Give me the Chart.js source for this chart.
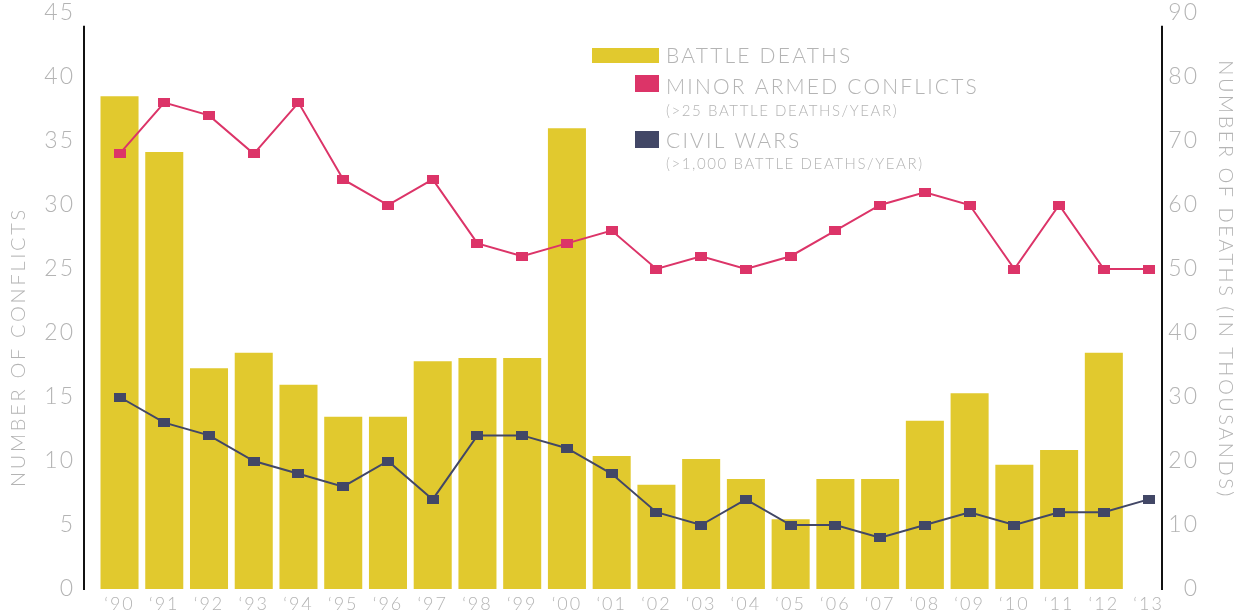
<!DOCTYPE html>
<html>
<head>
<meta charset="utf-8">
<script src="https://cdn.jsdelivr.net/npm/chart.js@4/dist/chart.umd.min.js"></script>
<style>
html,body{margin:0;padding:0;background:#ffffff;}
#wrap{width:1251px;height:613px;position:relative;}
</style>
</head>
<body>
<div id="wrap"><canvas id="c" width="1251" height="613"></canvas></div>
<script>
// ---- data ----
const years = ['‘90','‘91','‘92','‘93','‘94','‘95','‘96','‘97','‘98','‘99','‘00','‘01','‘02','‘03','‘04','‘05','‘06','‘07','‘08','‘09','‘10','‘11','‘12','‘13'];
const battleDeaths = [77, 68.3, 34.5, 36.9, 31.9, 26.9, 26.9, 35.6, 36.1, 36.1, 72, 20.8, 16.3, 20.3, 17.2, 10.9, 17.2, 17.2, 26.3, 30.6, 19.4, 21.7, 36.9, null];
const minorConflicts = [34, 38, 37, 34, 38, 32, 30, 32, 27, 26, 27, 28, 25, 26, 25, 26, 28, 30, 31, 30, 25, 30, 25, 25];
const civilWars = [15, 13, 12, 10, 9, 8, 10, 7, 12, 12, 11, 9, 6, 5, 7, 5, 5, 4, 5, 6, 5, 6, 6, 7];
const seriesLabels = ['BATTLE DEATHS', 'MINOR ARMED CONFLICTS', 'CIVIL WARS'];
const seriesNotes = ['', '(>25 BATTLE DEATHS/YEAR)', '(>1,000 BATTLE DEATHS/YEAR)'];
const leftTitle = 'NUMBER OF CONFLICTS';
const rightTitle = 'NUMBER OF DEATHS (IN THOUSANDS)';
const axisLineTop = 44; // axis lines stop just below the top tick (left-axis units)

// ---- styles ----
const YELLOW = '#e1c92e';
const PINK = '#dc3468';
const NAVY = '#424766';
const GREY = '#b4b4b4';
const FONT = 'Lato, "Open Sans", sans-serif';

function rectMarker(color, w, h) {
  const cv = document.createElement('canvas');
  cv.width = w; cv.height = h;
  const g = cv.getContext('2d');
  g.fillStyle = color; g.fillRect(0, 0, w, h);
  return cv;
}
const toXY = arr => arr.map((v, i) => ({x: i, y: v}));
function fixBox(size, key) {
  return function (s) {
    s[key] = size;
    s.paddingTop = 0; s.paddingBottom = 0; s.paddingLeft = 0; s.paddingRight = 0;
  };
}

const spacingPlugin = {
  id: 'spacing',
  beforeLayout(chart) { chart.ctx.letterSpacing = '2px'; },
  beforeDraw(chart) { chart.ctx.letterSpacing = '2px'; }
};

const decorPlugin = {
  id: 'decor',
  afterDraw(chart) {
    const ctx = chart.ctx;
    const ca = chart.chartArea;
    const ds = chart.data.datasets;
    const yL = chart.scales.yL;
    ctx.save();
    // axis lines
    ctx.strokeStyle = '#111111';
    ctx.lineWidth = 2;
    const yTop = yL.getPixelForValue(axisLineTop);
    const yBot = yL.getPixelForValue(0) + 1;
    ctx.beginPath();
    ctx.moveTo(ca.left, yTop); ctx.lineTo(ca.left, yBot);
    ctx.moveTo(ca.right, yTop); ctx.lineTo(ca.right, yBot);
    ctx.stroke();

    ctx.textAlign = 'left';
    ctx.textBaseline = 'alphabetic';
    // legend
    const lx = 666;
    ctx.fillStyle = ds[0].backgroundColor;
    ctx.fillRect(592, 48, 67, 15);
    ctx.fillStyle = ds[1].backgroundColor;
    ctx.fillRect(635, 75, 24, 17);
    ctx.fillStyle = ds[2].backgroundColor;
    ctx.fillRect(635, 131, 24, 17);
    ctx.fillStyle = GREY;
    ctx.letterSpacing = '2.2px';
    ctx.font = '300 21px ' + FONT;
    ctx.fillText(ds[0].label, lx, 62.5);
    ctx.fillText(ds[1].label, lx, 93.5);
    ctx.fillText(ds[2].label, lx, 147.5);
    ctx.letterSpacing = '1.6px';
    ctx.font = '300 15px ' + FONT;
    ctx.fillText(seriesNotes[1], lx, 115.5);
    ctx.fillText(seriesNotes[2], lx, 168.5);
    // axis titles
    ctx.font = '300 20px ' + FONT;
    ctx.textAlign = 'center';
    ctx.textBaseline = 'middle';
    ctx.letterSpacing = '2.7px';
    ctx.save();
    ctx.translate(19, ca.top + ca.height * 0.58);
    ctx.rotate(-Math.PI / 2);
    ctx.fillText(leftTitle, 0, 0);
    ctx.restore();
    ctx.letterSpacing = '2.5px';
    ctx.save();
    ctx.translate(1225, ca.top + ca.height * 0.463);
    ctx.rotate(Math.PI / 2);
    ctx.fillText(rightTitle, 0, 0);
    ctx.restore();
    ctx.restore();
  }
};

new Chart(document.getElementById('c'), {
  type: 'bar',
  data: {
    datasets: [
      {
        type: 'bar',
        label: seriesLabels[0],
        data: toXY(battleDeaths),
        backgroundColor: YELLOW,
        borderWidth: 0,
        yAxisID: 'yR',
        barPercentage: 0.85,
        categoryPercentage: 1,
        order: 2
      },
      {
        type: 'line',
        label: seriesLabels[1],
        data: toXY(minorConflicts),
        borderColor: PINK,
        backgroundColor: PINK,
        borderWidth: 2,
        pointStyle: rectMarker(PINK, 12, 9),
        pointRadius: 6,
        tension: 0,
        yAxisID: 'yL',
        order: 1
      },
      {
        type: 'line',
        label: seriesLabels[2],
        data: toXY(civilWars),
        borderColor: NAVY,
        backgroundColor: NAVY,
        borderWidth: 2,
        pointStyle: rectMarker(NAVY, 12, 9),
        pointRadius: 6,
        tension: 0,
        yAxisID: 'yL',
        order: 1
      }
    ]
  },
  options: {
    responsive: false,
    devicePixelRatio: 1,
    animation: false,
    layout: { padding: { top: 13, left: 0, right: 52, bottom: 0 } },
    plugins: { legend: { display: false }, tooltip: { enabled: false } },
    scales: {
      x: {
        type: 'linear',
        offset: false,
        min: -0.794,
        max: 23.3,
        grid: { display: false, drawTicks: false, offset: false },
        border: { display: false },
        afterFit: fixBox(24, 'height'),
        ticks: {
          stepSize: 1,
          includeBounds: false,
          autoSkip: false,
          maxRotation: 0,
          padding: 4,
          color: GREY,
          font: { family: FONT, size: 18, weight: 300 },
          callback: v => (Number.isInteger(v) && years[v] !== undefined) ? years[v] : ''
        }
      },
      yL: {
        position: 'left',
        min: 0,
        max: 45,
        grid: { display: false, drawTicks: false },
        border: { display: false },
        afterFit: fixBox(84, 'width'),
        ticks: {
          stepSize: 5,
          padding: 9,
          color: GREY,
          font: { family: FONT, size: 23, weight: 300 }
        }
      },
      yR: {
        position: 'right',
        min: 0,
        max: 90,
        grid: { display: false, drawTicks: false },
        border: { display: false },
        afterFit: fixBox(37, 'width'),
        ticks: {
          stepSize: 10,
          padding: 9,
          crossAlign: 'far',
          color: GREY,
          font: { family: FONT, size: 23, weight: 300 }
        }
      }
    }
  },
  plugins: [spacingPlugin, decorPlugin]
});
</script>
</body>
</html>
